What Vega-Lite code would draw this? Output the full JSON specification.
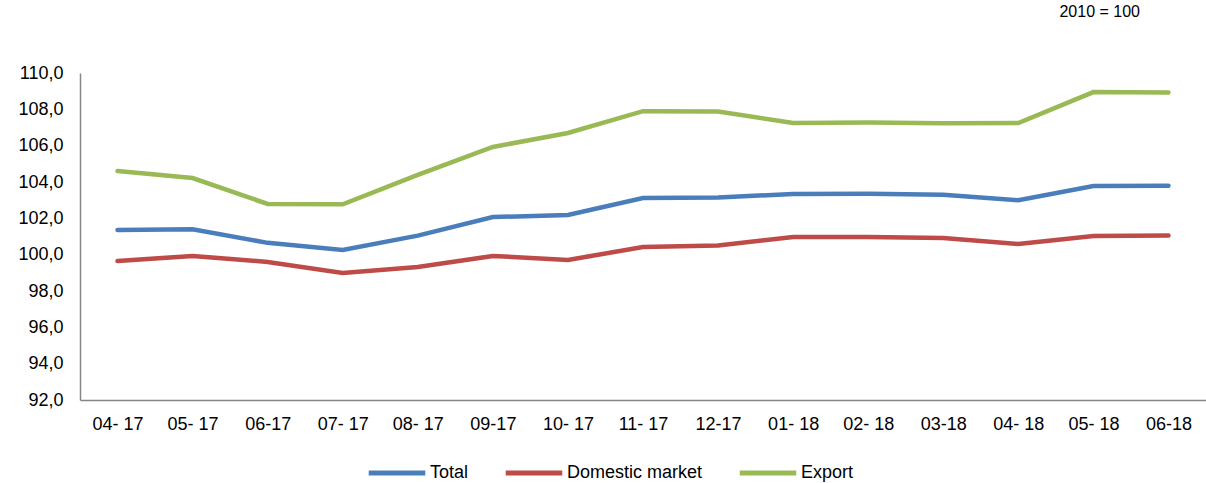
{
  "$schema": "https://vega.github.io/schema/vega-lite/v6.json",
  "width": 1126,
  "height": 327,
  "autosize": {"type": "none"},
  "padding": {"left": 80, "top": 73, "right": 0, "bottom": 83},
  "background": "white",
  "config": {
    "font": "Liberation Sans",
    "view": {"stroke": null}
  },
  "title": {
    "text": "2010 = 100",
    "anchor": "end",
    "frame": "group",
    "fontSize": 16,
    "fontWeight": "normal",
    "color": "#000000",
    "dx": -66,
    "offset": 44
  },
  "data": {
    "values": [
      {"month": "04- 17", "series": "Total", "value": 101.36},
      {"month": "05- 17", "series": "Total", "value": 101.4},
      {"month": "06-17", "series": "Total", "value": 100.65},
      {"month": "07- 17", "series": "Total", "value": 100.26},
      {"month": "08- 17", "series": "Total", "value": 101.05},
      {"month": "09-17", "series": "Total", "value": 102.07},
      {"month": "10- 17", "series": "Total", "value": 102.18},
      {"month": "11- 17", "series": "Total", "value": 103.12},
      {"month": "12-17", "series": "Total", "value": 103.15},
      {"month": "01- 18", "series": "Total", "value": 103.34},
      {"month": "02- 18", "series": "Total", "value": 103.36},
      {"month": "03-18", "series": "Total", "value": 103.3},
      {"month": "04- 18", "series": "Total", "value": 103.0},
      {"month": "05- 18", "series": "Total", "value": 103.78},
      {"month": "06-18", "series": "Total", "value": 103.8},
      {"month": "04- 17", "series": "Domestic market", "value": 99.65},
      {"month": "05- 17", "series": "Domestic market", "value": 99.93},
      {"month": "06-17", "series": "Domestic market", "value": 99.6},
      {"month": "07- 17", "series": "Domestic market", "value": 98.99},
      {"month": "08- 17", "series": "Domestic market", "value": 99.32},
      {"month": "09-17", "series": "Domestic market", "value": 99.93},
      {"month": "10- 17", "series": "Domestic market", "value": 99.71},
      {"month": "11- 17", "series": "Domestic market", "value": 100.42},
      {"month": "12-17", "series": "Domestic market", "value": 100.5},
      {"month": "01- 18", "series": "Domestic market", "value": 100.97},
      {"month": "02- 18", "series": "Domestic market", "value": 100.97},
      {"month": "03-18", "series": "Domestic market", "value": 100.92},
      {"month": "04- 18", "series": "Domestic market", "value": 100.59},
      {"month": "05- 18", "series": "Domestic market", "value": 101.03},
      {"month": "06-18", "series": "Domestic market", "value": 101.05},
      {"month": "04- 17", "series": "Export", "value": 104.6},
      {"month": "05- 17", "series": "Export", "value": 104.22},
      {"month": "06-17", "series": "Export", "value": 102.79},
      {"month": "07- 17", "series": "Export", "value": 102.77},
      {"month": "08- 17", "series": "Export", "value": 104.39},
      {"month": "09-17", "series": "Export", "value": 105.93},
      {"month": "10- 17", "series": "Export", "value": 106.7},
      {"month": "11- 17", "series": "Export", "value": 107.9},
      {"month": "12-17", "series": "Export", "value": 107.88},
      {"month": "01- 18", "series": "Export", "value": 107.25},
      {"month": "02- 18", "series": "Export", "value": 107.27},
      {"month": "03-18", "series": "Export", "value": 107.23},
      {"month": "04- 18", "series": "Export", "value": 107.25},
      {"month": "05- 18", "series": "Export", "value": 108.95},
      {"month": "06-18", "series": "Export", "value": 108.93}
    ]
  },
  "mark": {"type": "line", "strokeWidth": 4.5, "strokeCap": "round", "strokeJoin": "miter"},
  "encoding": {
    "x": {
      "field": "month",
      "type": "ordinal",
      "sort": null,
      "scale": {"type": "point", "padding": 0.5},
      "axis": {
        "title": null,
        "labelAngle": 0,
        "labelFontSize": 18,
        "labelColor": "#000000",
        "labelPadding": 15,
        "ticks": false,
        "domainColor": "#868686",
        "domainWidth": 1.5,
        "grid": false
      }
    },
    "y": {
      "field": "value",
      "type": "quantitative",
      "scale": {"domain": [92, 110], "nice": false, "zero": false},
      "axis": {
        "title": null,
        "values": [92, 94, 96, 98, 100, 102, 104, 106, 108, 110],
        "labelExpr": "replace(format(datum.value, '.1f'), '.', ',')",
        "labelFontSize": 18,
        "labelColor": "#000000",
        "labelPadding": 17,
        "ticks": false,
        "domainColor": "#868686",
        "domainWidth": 1.5,
        "grid": false
      }
    },
    "color": {
      "field": "series",
      "type": "nominal",
      "sort": ["Total", "Domestic market", "Export"],
      "scale": {
        "domain": ["Total", "Domestic market", "Export"],
        "range": ["#4a7ebb", "#be4b48", "#98b954"]
      },
      "legend": {
        "title": null,
        "orient": "none",
        "direction": "horizontal",
        "legendX": 286,
        "legendY": 369,
        "symbolType": "stroke",
        "symbolSize": 3200,
        "symbolStrokeWidth": 5,
        "labelFontSize": 18,
        "labelColor": "#000000",
        "labelOffset": 2,
        "columnPadding": 26
      }
    }
  }
}
